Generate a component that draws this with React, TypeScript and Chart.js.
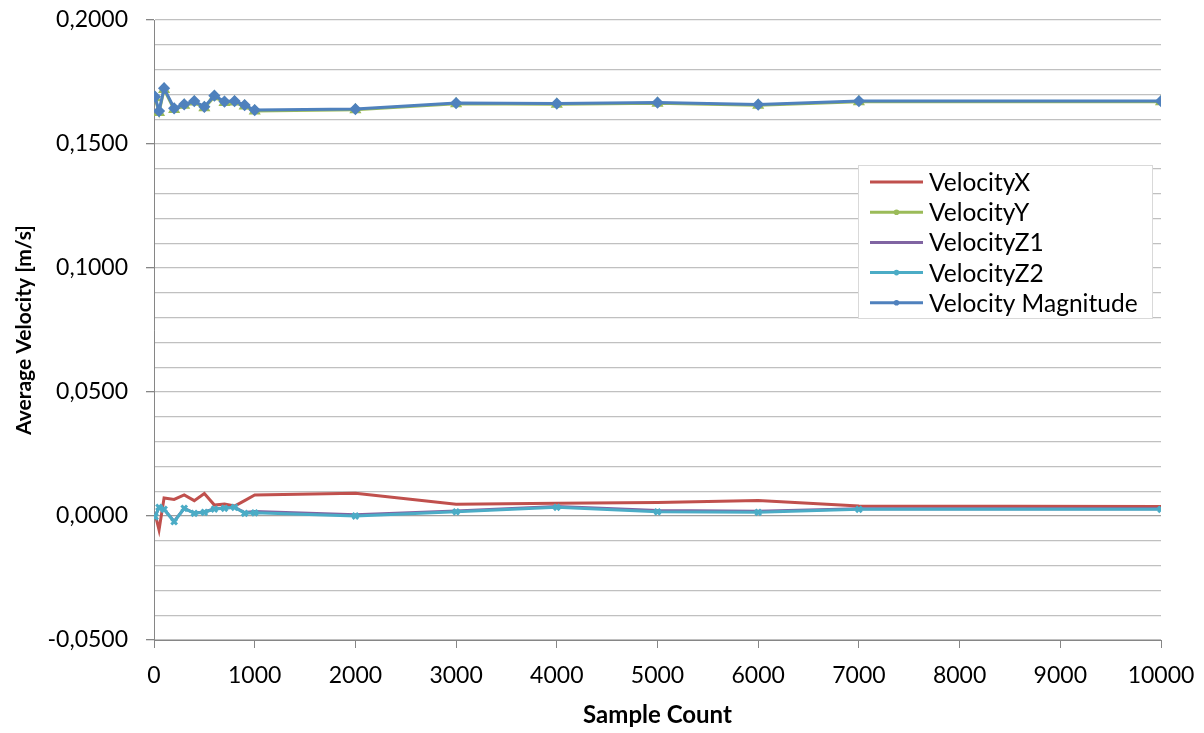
import React, { useEffect, useRef } from "react";
import { Chart, registerables } from "chart.js";

Chart.register(...registerables);

const sampleCounts = [10, 50, 100, 200, 300, 400, 500, 600, 700, 800, 900, 1000, 2000, 3000, 4000, 5000, 6000, 7000, 10000];
const velocityX = [0.001, -0.0056, 0.0073, 0.0067, 0.0085, 0.0062, 0.0091, 0.0044, 0.0048, 0.004, 0.0062, 0.0085, 0.0092, 0.0047, 0.0051, 0.0054, 0.0062, 0.004, 0.0038];
const velocityY = [0.1686, 0.1627, 0.172, 0.1639, 0.1656, 0.1669, 0.1646, 0.1691, 0.1667, 0.1669, 0.1653, 0.1633, 0.1638, 0.1662, 0.166, 0.1664, 0.1656, 0.167, 0.167];
const velocityZ1 = [-0.0002, 0.0034, 0.0027, -0.0022, 0.0031, 0.0012, 0.0016, 0.0029, 0.0032, 0.0035, 0.0014, 0.0018, 0.0005, 0.002, 0.0038, 0.0022, 0.0019, 0.0029, 0.0029];
const velocityZ2 = [-0.0003, 0.0035, 0.0027, -0.0023, 0.0031, 0.0011, 0.0015, 0.0028, 0.0031, 0.0035, 0.0011, 0.0013, 0.0, 0.0017, 0.0035, 0.0017, 0.0015, 0.0027, 0.0027];
const velocityMag = [0.1691, 0.1633, 0.1725, 0.1644, 0.166, 0.1673, 0.165, 0.1695, 0.1671, 0.1673, 0.1657, 0.1637, 0.1641, 0.1665, 0.1663, 0.1667, 0.1659, 0.1673, 0.1673];

const seriesNames = ["VelocityX", "VelocityY", "VelocityZ1", "VelocityZ2", "Velocity Magnitude"];
const FONT = "Lato, 'Open Sans', sans-serif";

const toPoints = (vals: number[]) => vals.map((v, i) => ({ x: sampleCounts[i], y: v }));

const legendPlugin = {
  id: "boxLegend",
  afterDraw(chart: any) {
    const { ctx, chartArea } = chart;
    const w = 294;
    const h = 153;
    const left = chartArea.right - 303;
    const top = chartArea.top + 145;
    ctx.save();
    ctx.fillStyle = "#ffffff";
    ctx.fillRect(left, top, w, h);
    ctx.strokeStyle = "#d9d9d9";
    ctx.lineWidth = 1;
    ctx.strokeRect(left + 0.5, top + 0.5, w, h);
    ctx.font = `24.5px ${FONT}`;
    ctx.textBaseline = "middle";
    chart.data.datasets.forEach((ds: any, i: number) => {
      const y = top + 17 + i * 30.2;
      const x0 = left + 12;
      const x1 = left + 65;
      ctx.strokeStyle = ds.borderColor;
      ctx.lineWidth = 3;
      ctx.beginPath();
      ctx.moveTo(x0, y);
      ctx.lineTo(x1, y);
      ctx.stroke();
      if (ds.pointRadius > 0) {
        ctx.fillStyle = ds.pointBackgroundColor;
        ctx.beginPath();
        ctx.arc((x0 + x1) / 2, y, 2.8, 0, Math.PI * 2);
        ctx.fill();
      }
      ctx.fillStyle = "#000000";
      ctx.fillText(ds.label, left + 71, y + 1);
    });
    ctx.restore();
  },
};

export default function App() {
  const ref = useRef<HTMLCanvasElement | null>(null);
  useEffect(() => {
    if (!ref.current) return;
    const chart = new Chart(ref.current, {
      type: "line",
      data: {
        datasets: [
          {
            label: seriesNames[0],
            data: toPoints(velocityX),
            borderColor: "#C0504D",
            backgroundColor: "#C0504D",
            pointBackgroundColor: "#C0504D",
            borderWidth: 3,
            pointRadius: 0,
            order: 5,
          },
          {
            label: seriesNames[1],
            data: toPoints(velocityY),
            borderColor: "#9BBB59",
            backgroundColor: "#9BBB59",
            pointBackgroundColor: "#9BBB59",
            pointBorderColor: "#9BBB59",
            borderWidth: 3,
            pointRadius: 4,
            pointStyle: "triangle",
            order: 4,
          },
          {
            label: seriesNames[2],
            data: toPoints(velocityZ1),
            borderColor: "#8064A2",
            backgroundColor: "#8064A2",
            pointBackgroundColor: "#8064A2",
            borderWidth: 3,
            pointRadius: 0,
            order: 3,
          },
          {
            label: seriesNames[3],
            data: toPoints(velocityZ2),
            borderColor: "#4BACC6",
            backgroundColor: "#4BACC6",
            pointBackgroundColor: "#4BACC6",
            pointBorderColor: "#4BACC6",
            borderWidth: 3,
            pointRadius: 4,
            pointBorderWidth: 3,
            pointStyle: "crossRot",
            order: 2,
          },
          {
            label: seriesNames[4],
            data: toPoints(velocityMag),
            borderColor: "#4F81BD",
            backgroundColor: "#4F81BD",
            pointBackgroundColor: "#4F81BD",
            pointBorderColor: "#4F81BD",
            borderWidth: 3,
            pointRadius: 4,
            pointStyle: "rectRot",
            order: 1,
          },
        ],
      },
      options: {
        animation: false,
        responsive: true,
        maintainAspectRatio: false,
        layout: { padding: { left: 0, right: 43, top: 20, bottom: 0 } },
        plugins: {
          legend: { display: false },
          tooltip: { enabled: false },
        },
        elements: { line: { tension: 0 } },
        scales: {
          x: {
            type: "linear",
            min: 0,
            max: 10000,
            ticks: {
              stepSize: 1000,
              color: "#000000",
              font: { family: FONT, size: 23 },
              padding: 14,
              maxRotation: 0,
              callback: (v: any) => String(v),
            },
            grid: {
              drawOnChartArea: false,
              tickLength: 8,
              tickColor: "#868686",
            },
            border: { color: "#868686", width: 1 },
            title: {
              display: true,
              text: "Sample Count",
              color: "#000000",
              font: { family: FONT, size: 24, weight: "bold" },
              padding: { top: 0, bottom: 3 },
            },
            afterFit: (s: any) => {
              s.height = 93;
              s.paddingLeft = 0;
              s.paddingRight = 0;
            },
          },
          y: {
            type: "linear",
            min: -0.05,
            max: 0.2,
            ticks: {
              stepSize: 0.01,
              color: "#000000",
              font: { family: FONT, size: 23 },
              padding: 18,
              autoSkip: false,
              callback: (v: any) => {
                const n = Math.round(Number(v) * 100);
                if (n % 5 !== 0) return "";
                return (n / 100).toFixed(4).replace(".", ",");
              },
            },
            grid: {
              color: (c: any) => {
                const n = Math.round(Number(c.tick?.value) * 100);
                return n === 0 ? "#a0a0a0" : "#c0c0c0";
              },
              lineWidth: 1.3,
              tickLength: 8,
              tickColor: (c: any) => {
                const n = Math.round(Number(c.tick?.value) * 100);
                return n % 5 === 0 ? "#868686" : "rgba(0,0,0,0)";
              },
            },
            border: { color: "#868686", width: 1 },
            title: {
              display: true,
              text: "Average Velocity [m/s]",
              color: "#000000",
              font: { family: FONT, size: 21, weight: "bold" },
              padding: { top: 12, bottom: 0 },
            },
            afterFit: (s: any) => {
              s.width = 154;
              s.paddingTop = 0;
              s.paddingBottom = 0;
            },
          },
        },
      },
      plugins: [legendPlugin],
    } as any);
    return () => chart.destroy();
  }, []);
  return (
    <div style={{ position: "fixed", left: 0, top: 0, width: 1204, height: 733, background: "#ffffff" }}>
      <canvas ref={ref} />
    </div>
  );
}
